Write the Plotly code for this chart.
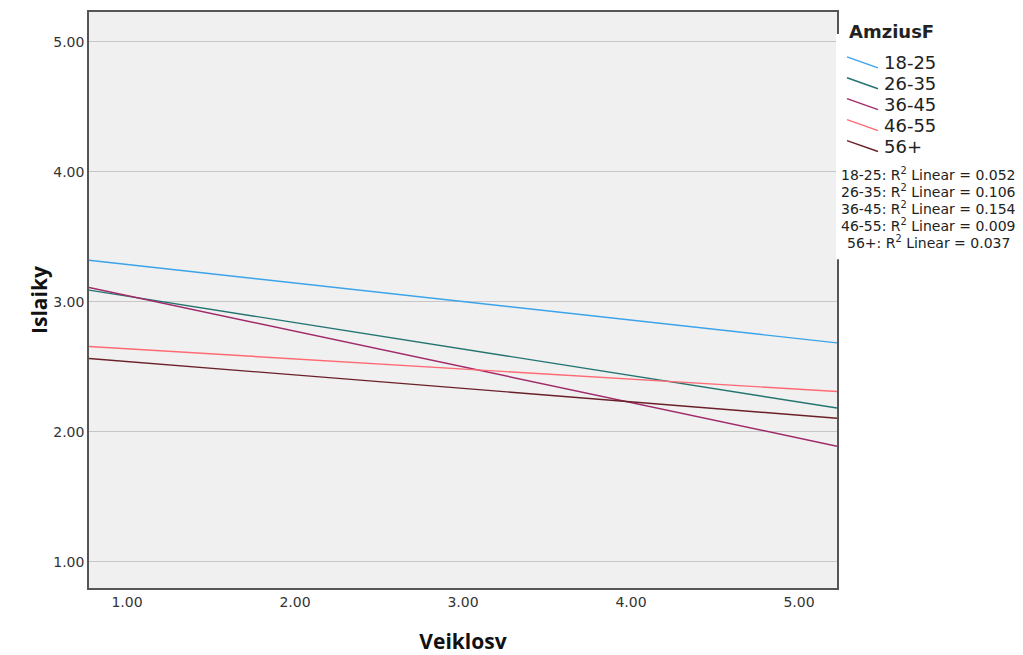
import plotly.graph_objects as go

# ---- data ----
groups = ["18-25", "26-35", "36-45", "46-55", "56+"]
colors = ["#3aa3ea", "#237470", "#a02a6a", "#ff6a74", "#6a2028"]
x_start = [0.774, 0.774, 0.774, 0.774, 0.774]
x_end = [5.226, 5.226, 5.226, 5.226, 5.226]
y_start = [3.32, 3.09, 3.11, 2.656, 2.564]
y_end = [2.684, 2.183, 1.889, 2.31, 2.104]
r2 = ["0.052", "0.106", "0.154", "0.009", "0.037"]
tick_vals = [1, 2, 3, 4, 5]
tick_text = ["1.00", "2.00", "3.00", "4.00", "5.00"]
legend_title = "AmziusF"
x_title = "Veiklosv"
y_title = "Islaiky"

OFF = 8  # page body margin
W, H = 1023 - 2 * OFF + 4, 655 - OFF
L, R, T, B = 89 - OFF, 837 - OFF, 10 - OFF, 588 - OFF


def px(x):
    return (x - OFF - L) / (R - L)


def py(y):
    return (B - (y - OFF)) / (B - T)


fig = go.Figure()
for g, c, x0, x1, y0, y1 in zip(groups, colors, x_start, x_end, y_start, y_end):
    fig.add_trace(go.Scatter(x=[x0, x1], y=[y0, y1], mode="lines",
                             line=dict(color=c, width=1.4), name=g,
                             showlegend=False, hoverinfo="skip"))

shapes = []
annotations = []
# white legend panel overlapping the frame
shapes.append(dict(type="rect", xref="paper", yref="paper",
                   x0=px(836), x1=px(1023), y0=py(258), y1=py(32),
                   fillcolor="white", line=dict(width=0), layer="above"))
annotations.append(dict(xref="paper", yref="paper", x=px(847), y=py(30),
                        xanchor="left", yanchor="middle", showarrow=False,
                        text="<b>" + legend_title + "</b>",
                        font=dict(family="DejaVu Sans", size=18, color="#222")))
item_y = [61, 82, 103, 124, 145]
for g, c, yc in zip(groups, colors, item_y):
    shapes.append(dict(type="line", xref="paper", yref="paper",
                       x0=px(847), y0=py(yc - 6), x1=px(878), y1=py(yc + 5),
                       line=dict(color=c, width=1.4), layer="above"))
    annotations.append(dict(xref="paper", yref="paper", x=px(882), y=py(yc),
                            xanchor="left", yanchor="middle", showarrow=False,
                            text=g, font=dict(family="DejaVu Sans", size=18, color="#222")))
r2_y = [173, 190, 207, 224, 241]
for g, v, yc in zip(groups, r2, r2_y):
    annotations.append(dict(xref="paper", yref="paper", x=px(928), y=py(yc),
                            xanchor="center", yanchor="middle", showarrow=False,
                            text=f"{g}: R<sup>2</sup> Linear = {v}",
                            font=dict(family="DejaVu Sans", size=14, color="#222")))

fig.update_layout(
    width=W, height=H,
    margin=dict(l=L, r=W - R, t=T, b=H - B, pad=0),
    paper_bgcolor="white", plot_bgcolor="#f0f0f0",
    showlegend=False,
    shapes=shapes, annotations=annotations,
    xaxis=dict(range=[0.774, 5.226], tickvals=tick_vals, ticktext=tick_text,
               showgrid=False, zeroline=False, showline=True, mirror=True,
               linecolor="#555", linewidth=1.5, ticks="",
               tickfont=dict(family="DejaVu Sans", size=14, color="#333"),
               title=dict(text="<b>" + x_title + "</b>", standoff=26,
                          font=dict(family="Open Sans", size=21, color="#111"))),
    yaxis=dict(range=[0.798, 5.23], tickvals=tick_vals, ticktext=tick_text,
               showgrid=True, gridcolor="#c6c6c6", gridwidth=1.2, zeroline=False,
               showline=True, mirror=True, linecolor="#555", linewidth=1.5, ticks="",
               tickfont=dict(family="DejaVu Sans", size=14, color="#333"),
               title=dict(text="<b>" + y_title + "</b>", standoff=0,
                          font=dict(family="Open Sans", size=21, color="#111"))),
)

fig.write_html("out.html")
